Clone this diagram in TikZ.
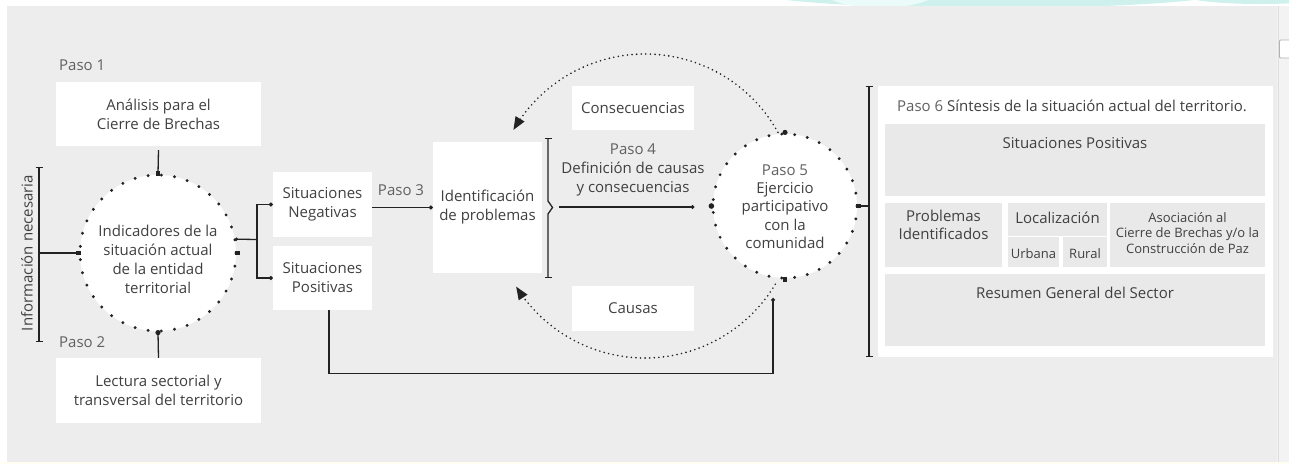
\documentclass[tikz,border=0pt]{standalone}
\usepackage{fontspec}
\setmainfont{Open Sans}
\usetikzlibrary{arrows.meta}
\definecolor{bg}{HTML}{EDEDED}
\definecolor{inner}{HTML}{E9E9E9}
\definecolor{txt}{HTML}{404040}
\definecolor{paso}{HTML}{606060}
\definecolor{ln}{HTML}{222222}
\definecolor{cyanA}{HTML}{CFF1EE}
\definecolor{cyanB}{HTML}{EAFBFA}
\definecolor{sbar}{HTML}{F3F3F3}
\definecolor{sline}{HTML}{DDDDDD}
\newcommand\myfs{\fontsize{15pt}{19pt}\selectfont}
\newcommand\mysmall{\fontsize{13pt}{15.5pt}\selectfont}
\begin{document}
\begin{tikzpicture}[x=1pt,y=-1pt,
  wbox/.style={fill=white, inner sep=0pt, align=center, text=txt, font=\myfs},
  gbox/.style={fill=inner, inner sep=0pt},
  lbl/.style={text=txt, align=center, inner sep=0pt, font=\myfs},
  slbl/.style={text=txt, align=center, inner sep=0pt, font=\mysmall},
  pasolbl/.style={text=paso, inner sep=0pt, font=\myfs},
  conn/.style={draw=ln, line width=1.3pt},
  tipdot/.style={-{Circle[length=3.8pt]}},
  brk/.style={{Bar[width=7pt]}-{Bar[width=7pt]}, conn},
  dotcirc/.style={circle, fill=white, draw=ln, line width=3.2pt, line cap=round, inner sep=0pt},
  dotarc/.style={draw=ln, line width=1.8pt, line cap=round, dash pattern=on 0pt off 4.6pt},
  sq/.style={fill=ln},
]
% background
\useasboundingbox (0,0) rectangle (1289,464);
\fill[white] (0,0) rectangle (1289,464);
\begin{scope}
  \clip (0,0) rectangle (1289,6);
  \fill[cyanA] (990,-8) ellipse [x radius=235, y radius=16];
  \fill[cyanB] (880,-12) ellipse [x radius=60, y radius=20];
  \fill[cyanA] (1260,-6) ellipse [x radius=80, y radius=10];
\end{scope}
\fill[bg] (7,6) rectangle (1277,462);
\fill[sbar] (1277,6) rectangle (1289,462);
\draw[sline, line width=0.8pt] (1278,6) -- (1278,462);
\fill[yellow!6] (0,462) rectangle (1289,464);
\draw[fill=white, draw=black!30, line width=0.8pt, rounded corners=1pt] (1279.5,40) rectangle (1292,58);

% left column
\node[pasolbl, anchor=west] (p1) at (59,65) {Paso 1};
\node[wbox, minimum width=205pt, minimum height=64pt] (b1) at (158.5,114) {Análisis para el\\Cierre de Brechas};
\node[pasolbl, anchor=west] (p2) at (59,342) {Paso 2};
\node[wbox, minimum width=205pt, minimum height=65pt] (b2) at (158.5,390.5) {Lectura sectorial y\\transversal del territorio};
\node[lbl, rotate=90] (info) at (27,253) {Información necesaria};
\draw[brk] (39,167) -- (39,342);
\coordinate (ib) at (39,253);

% circle 1
\node[dotcirc, minimum size=156pt, dash pattern=on 0pt off 13.246pt] (c1) at (158,253) {};
\node[lbl] (c1t) at (158,259.5) {Indicadores de la\\situación actual\\de la entidad\\territorial};
\draw[conn] ([yshift=-4pt]b1.south) -- (c1.north);
\draw[conn] (c1.south) -- (b2.north);
\draw[conn] (ib) -- (c1.west);
\fill[sq] ([shift={(-2.4pt,-2.4pt)}]c1.north) rectangle ([shift={(2.4pt,2.4pt)}]c1.north);
\fill[sq] ([shift={(-2.4pt,-2.4pt)}]c1.west) rectangle ([shift={(2.4pt,2.4pt)}]c1.west);
\fill[sq] ([shift={(-2.4pt,-2.4pt)}]c1.east) rectangle ([shift={(2.4pt,2.4pt)}]c1.east);
\fill[ln] (c1.south) circle (2.6pt);
\fill[ln] (c1.10) circle (1.8pt);

% situaciones
\node[wbox, minimum width=99pt, minimum height=65pt] (sn) at (322.5,204.5) {Situaciones\\Negativas};
\node[wbox, minimum width=99pt, minimum height=64pt] (sp) at (322.5,278) {Situaciones\\Positivas};
\coordinate (br) at (257,239.5);
\draw[conn] (c1.10) -- (br);
\draw[conn, tipdot] (br) |- (sn.west);
\draw[conn, tipdot] (br) |- (sp.west);

% identificacion
\node[wbox, minimum width=109pt, minimum height=131pt] (id) at (487.5,207.5) {Identificación\\de problemas};
\draw[conn, tipdot] (sn.east |- id.west) -- (id.west);
\node[pasolbl] (p3) at (401,190) {Paso 3};
\draw[brk] (548,138) -- (548,201) -- (552.5,207.5) -- (548,214) -- (548,278);

% consecuencias / causas
\node[wbox, minimum width=122pt, minimum height=44pt] (cons) at (633,108) {Consecuencias};
\node[wbox, minimum width=122pt, minimum height=45pt] (caus) at (633,308.5) {Causas};
\node[lbl] (p4) at (633,170) {\textcolor{paso}{Paso 4}\\Definición de causas\\y consecuencias};

% dotted arcs
\draw[dotarc, -{Triangle[length=13pt, width=10pt]}] plot[domain=-29:-150, samples=80] ({645+152*cos(\x)},{206+152*sin(\x)});
\draw[dotarc, -{Triangle[length=13pt, width=10pt]}] plot[domain=31:148, samples=80] ({645+152*cos(\x)},{206+152*sin(\x)});

% circle 2
\node[dotcirc, minimum size=144pt, dash pattern=on 0pt off 12.925pt] (c2) at (785,206) {};
\node[lbl, font=\fontsize{15pt}{18.3pt}\selectfont] (c2t) at (785,206.5) {\textcolor{paso}{Paso 5}\\Ejercicio\\participativo\\con la\\comunidad};
\draw[conn, tipdot] (559,207) -- ([xshift=-17pt]c2.west |- 0,207);
\fill[ln] (c2.west) circle (2.8pt);
\fill[ln] (c2.north) circle (2.6pt);
\fill[sq] ([shift={(-2.4pt,-2.4pt)}]c2.south) rectangle ([shift={(2.4pt,2.4pt)}]c2.south);
\fill[sq] ([shift={(-2.4pt,-2.4pt)}]c2.east) rectangle ([shift={(2.4pt,2.4pt)}]c2.east);

% bottom connector
\coordinate (bend) at (773,298);
\draw[conn, tipdot] ([xshift=6.5pt]sp.south) -- ++(0,63) -| (bend);

% right panel
\draw[brk] (869,86) -- (869,357);
\coordinate (rb) at (869,206);
\draw[conn] (c2.east) -- (rb);
\node[fill=white, inner sep=0pt, minimum width=395pt, minimum height=271pt] (panel) at (1075.5,221.5) {};
\node[pasolbl] (t6) at (1072,106) {Paso 6 \textcolor{txt}{Síntesis de la situación actual del territorio.}};
\node[gbox, minimum width=380pt, minimum height=72pt] (g1) at (1075,160) {};
\node[lbl] (g1t) at (1075,143) {Situaciones Positivas};
\node[gbox, minimum width=117pt, minimum height=64pt] (g2) at (943.5,235) {};
\node[lbl, font=\fontsize{15pt}{18pt}\selectfont] (g2t) at (943.5,225) {Problemas\\Identificados};
\node[gbox, minimum width=99pt, minimum height=33pt] (g3) at (1057.5,219.5) {};
\node[lbl] (g3t) at (1057.5,218) {Localización};
\node[gbox, minimum width=51pt, minimum height=30pt] (g4) at (1033.5,252) {};
\node[slbl] (g4t) at (1033.5,254) {Urbana};
\node[gbox, minimum width=44pt, minimum height=30pt] (g5) at (1085,252) {};
\node[slbl] (g5t) at (1085,254) {Rural};
\node[gbox, minimum width=155pt, minimum height=64pt] (g6) at (1187.5,235) {};
\node[slbl] (g6t) at (1187.5,233) {Asociación al\\Cierre de Brechas y/o la\\Construcción de Paz};
\node[gbox, minimum width=380pt, minimum height=72pt] (g7) at (1075,310) {};
\node[lbl] (g7t) at (1075,293) {Resumen General del Sector};
\end{tikzpicture}
\end{document}
